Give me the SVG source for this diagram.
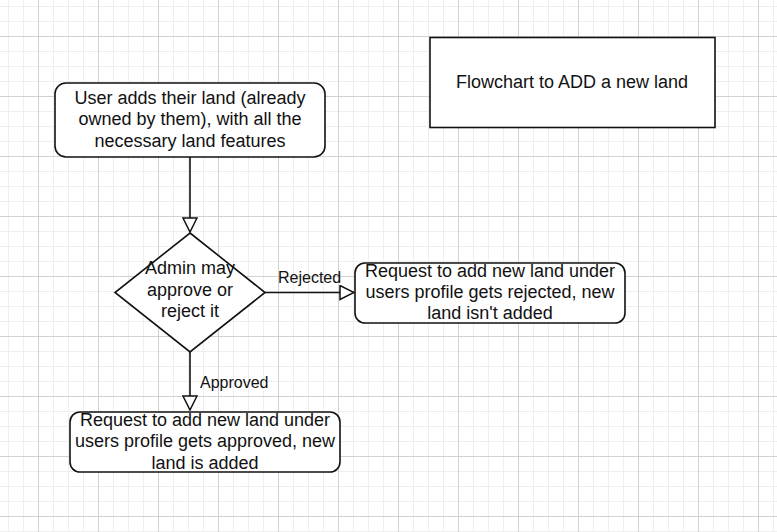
<svg xmlns="http://www.w3.org/2000/svg" width="777" height="532" viewBox="0 0 777 532">
<defs>
<pattern id="minor" width="15" height="15" patternUnits="userSpaceOnUse" x="8" y="6">
<path d="M0.5 0 V15 M0 0.5 H15" fill="none" stroke="#eeeeee" stroke-width="1"/>
</pattern>
<pattern id="major" width="60" height="60" patternUnits="userSpaceOnUse" x="38" y="36">
<path d="M0.5 0 V60 M0 0.5 H60" fill="none" stroke="#d2d2d2" stroke-width="1"/>
</pattern>
<marker id="tri" viewBox="0 0 16 16" refX="15" refY="8" markerWidth="16" markerHeight="16" markerUnits="userSpaceOnUse" orient="auto">
<path d="M1 1 L15 8 L1 15 Z" fill="#fff" stroke="#111" stroke-width="1.5" stroke-linejoin="miter"/>
</marker>
</defs>
<style>
.shape{fill:#fff;stroke:#111;stroke-width:1.6}
.t{font-family:"Liberation Sans",Arial,sans-serif;font-size:18px;fill:#111;text-anchor:middle}
.lbl{font-family:"Liberation Sans",Arial,sans-serif;font-size:16px;fill:#111}
.edge{fill:none;stroke:#111;stroke-width:1.6}
</style>
<rect width="777" height="532" fill="#fff"/>
<rect width="777" height="532" fill="url(#minor)"/>
<rect width="777" height="532" fill="url(#major)"/>

<g id="title">
<rect class="shape" x="430" y="37.5" width="285" height="90"/>
<text class="t" x="572" y="88">Flowchart to ADD a new land</text>
</g>

<g id="start">
<rect class="shape" x="55" y="83" width="270" height="74" rx="11"/>
<text class="t" x="190" y="104">User adds their land (already</text>
<text class="t" x="190" y="125">owned by them), with all the</text>
<text class="t" x="190" y="146.5">necessary land features</text>
</g>

<g id="decision">
<path class="shape" d="M190 233 L265 292.5 L190 352 L115 292.5 Z"/>
<text class="t" x="190" y="274">Admin may</text>
<text class="t" x="190" y="295.5">approve or</text>
<text class="t" x="190" y="317">reject it</text>
</g>

<g id="rejected">
<rect class="shape" x="355" y="263" width="270" height="60" rx="10"/>
<text class="t" x="490" y="276.5">Request to add new land under</text>
<text class="t" x="490" y="297.5">users profile gets rejected, new</text>
<text class="t" x="490" y="319">land isn't added</text>
</g>

<g id="approved">
<rect class="shape" x="70" y="412" width="270" height="60" rx="10"/>
<text class="t" x="205" y="425.5">Request to add new land under</text>
<text class="t" x="205" y="447">users profile gets approved, new</text>
<text class="t" x="205" y="468.5">land is added</text>
</g>

<g id="connectors">
<path class="edge" d="M190 157 V232" marker-end="url(#tri)"/>
<path class="edge" d="M265 292.5 H354" marker-end="url(#tri)"/>
<path class="edge" d="M190 352 V410" marker-end="url(#tri)"/>
<text class="lbl" x="278" y="283">Rejected</text>
<text class="lbl" x="200" y="388">Approved</text>
</g>
</svg>
